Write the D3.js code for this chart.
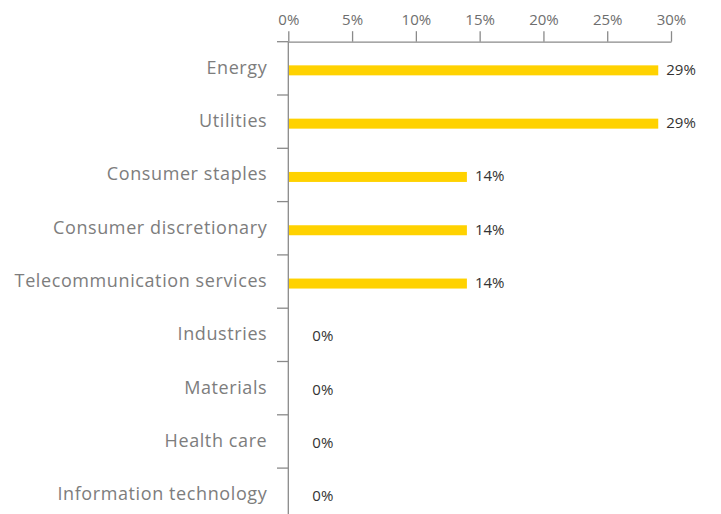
<!DOCTYPE html>
<html>
<head>
<meta charset="utf-8">
<script src="https://cdn.jsdelivr.net/npm/d3@7"></script>
<style>
  html, body { margin: 0; padding: 0; background: #ffffff; }
  svg { display: block; }
</style>
</head>
<body>
<svg id="chart" width="721" height="514"></svg>
<script>
// Sector shares (percent)
const categories = [
  "Energy",
  "Utilities",
  "Consumer staples",
  "Consumer discretionary",
  "Telecommunication services",
  "Industries",
  "Materials",
  "Health care",
  "Information technology"
];
const values = [29, 29, 14, 14, 14, 0, 0, 0, 0];
const xTicks = [0, 5, 10, 15, 20, 25, 30];

const margin = { top: 41.7, left: 288.3 };
const innerW = 382.7;
const bandH = 53.3;
const innerH = bandH * categories.length;

const font = "'Open Sans', 'DejaVu Sans', sans-serif";
const axisColor = "#8a8a8a";

const svg = d3.select("#chart");
const g = svg.append("g").attr("transform", `translate(${margin.left},${margin.top})`);

const x = d3.scaleLinear().domain([0, 30]).range([0, innerW]);
const y = d3.scaleBand().domain(categories).range([0, innerH]).paddingInner(0).paddingOuter(0);

// Top percentage axis
const xAxis = g.append("g")
  .call(d3.axisTop(x).tickValues(xTicks).tickFormat(d => d + "%").tickSize(10.5).tickSizeOuter(0).tickPadding(6));
xAxis.select(".domain").attr("stroke", axisColor).attr("stroke-width", 1.3);
xAxis.selectAll(".tick line").attr("stroke", axisColor).attr("stroke-width", 1.3);
xAxis.selectAll(".tick text")
  .attr("fill", "#6e6e6e")
  .style("font-family", font)
  .style("font-size", "15px");

// Category axis: labels, plus short ticks on band boundaries
const yAxis = g.append("g")
  .call(d3.axisLeft(y).tickSize(0).tickPadding(21));
yAxis.select(".domain").remove();
yAxis.selectAll(".tick text")
  .attr("fill", "#7d7d7d")
  .attr("dy", "0.3em")
  .style("font-family", font)
  .style("font-size", "18px")
  .style("letter-spacing", "0.6px");

g.append("g")
  .selectAll("line")
  .data(categories)
  .join("line")
  .attr("x1", -11.3).attr("x2", 0)
  .attr("y1", d => y(d)).attr("y2", d => y(d))
  .attr("stroke", axisColor).attr("stroke-width", 1.3);

g.append("line")
  .attr("x1", 0).attr("x2", 0)
  .attr("y1", 0).attr("y2", innerH)
  .attr("stroke", axisColor).attr("stroke-width", 1.3);

// Bars
const barH = 10;
const barOffset = 2;
const rows = categories.map((c, i) => ({ cat: c, v: values[i] }));

g.append("g")
  .selectAll("rect")
  .data(rows.filter(d => d.v > 0))
  .join("rect")
  .attr("x", x(0) + 0.7)
  .attr("y", d => y(d.cat) + y.bandwidth() / 2 - barH / 2 + barOffset)
  .attr("width", d => x(d.v) - x(0) - 0.7)
  .attr("height", barH)
  .attr("fill", "#ffd200");

// Value labels
g.append("g")
  .selectAll("text")
  .data(rows)
  .join("text")
  .attr("x", d => Math.max(x(d.v) + 8, x(0) + 24))
  .attr("y", d => y(d.cat) + y.bandwidth() / 2 + barOffset)
  .attr("dy", "0.3em")
  .attr("fill", "#333333")
  .style("font-family", font)
  .style("font-size", "15px")
  .text(d => d.v + "%");
</script>
</body>
</html>
